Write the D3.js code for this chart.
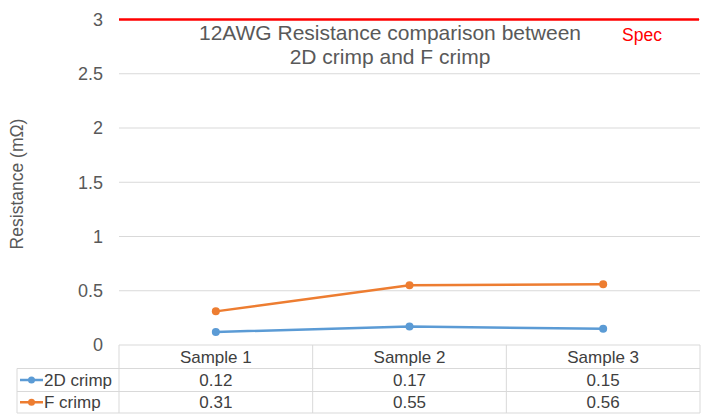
<!DOCTYPE html>
<html><head><meta charset="utf-8">
<script src="https://cdn.jsdelivr.net/npm/d3@7"></script>
<style>body{margin:0;background:#fff;}svg{display:block;font-family:"Liberation Sans",Arial,sans-serif;}</style>
</head><body>
<svg id="c" width="710" height="415"></svg>
<script>
const categories = ["Sample 1", "Sample 2", "Sample 3"];
const series2D = [0.12, 0.17, 0.15];
const seriesF = [0.31, 0.55, 0.56];
const specValue = [3, 3, 3];
const yTicks = [0, 0.5, 1, 1.5, 2, 2.5, 3];
const seriesNames = ["2D crimp", "F crimp"];
const colors = ["#5B9BD5", "#ED7D31"];

const FF = "'Liberation Sans', Arial, sans-serif";
const svg = d3.select("#c");
const L = 119, R = 700, T = 19.5, B = 345;
const x = d3.scaleBand().domain(categories).range([L, R]);
const y = d3.scaleLinear().domain([0, 3]).range([B, T]);

// gridlines
svg.append("g").selectAll("line").data(yTicks.filter(d => d > 0)).join("line")
  .attr("x1", L).attr("x2", R).attr("y1", d => y(d)).attr("y2", d => y(d))
  .attr("stroke", "#D9D9D9").attr("stroke-width", 1);

// y axis labels
const yAxis = d3.axisLeft(y).tickValues(yTicks).tickSize(0).tickPadding(16).tickFormat(d3.format("~g"));
const ga = svg.append("g").attr("transform", `translate(${L},0)`).call(yAxis);
ga.select(".domain").remove();
ga.selectAll("text").attr("font-size", 18).attr("fill", "#595959").attr("font-family", FF);

// y title
svg.append("text").attr("transform", `translate(23,${184}) rotate(-90)`)
  .attr("text-anchor", "middle").attr("font-size", 17.5).attr("fill", "#595959").text("Resistance (mΩ)");

// title
const title = svg.append("text").attr("text-anchor", "middle").attr("font-size", 21).attr("fill", "#595959");
title.append("tspan").attr("x", 390).attr("y", 40).text("12AWG Resistance comparison between");
title.append("tspan").attr("x", 390).attr("y", 64).text("2D crimp and F crimp");

// spec line
svg.append("line").attr("x1", L).attr("x2", R - 1).attr("y1", y(specValue[0])).attr("y2", y(specValue[0]))
  .attr("stroke", "#FF0000").attr("stroke-width", 2.5);
svg.append("text").attr("x", 642).attr("y", 41).attr("text-anchor", "middle").attr("font-size", 17.5)
  .attr("fill", "#FF0000").text("Spec");

// series
const cx = c => x(c) + x.bandwidth() / 2;
[series2D, seriesF].forEach((s, i) => {
  const data = categories.map((c, j) => ({c, v: s[j]}));
  svg.append("path").datum(data)
    .attr("d", d3.line().x(d => cx(d.c)).y(d => y(d.v)))
    .attr("fill", "none").attr("stroke", colors[i]).attr("stroke-width", 2.5).attr("stroke-linecap", "round");
  svg.append("g").selectAll("circle").data(data).join("circle")
    .attr("cx", d => cx(d.c)).attr("cy", d => y(d.v)).attr("r", 4).attr("fill", colors[i]);
});

// data table
const rowY = [B, 368.5, 391.5, 413];
const tcol = "#D9D9D9";
const tg = svg.append("g").attr("stroke", tcol).attr("stroke-width", 1).attr("fill", "none");
tg.append("line").attr("x1", L).attr("x2", R).attr("y1", rowY[0]).attr("y2", rowY[0]);
[1, 2, 3].forEach(k => tg.append("line").attr("x1", 17).attr("x2", R).attr("y1", rowY[k]).attr("y2", rowY[k]));
tg.append("line").attr("x1", 17).attr("x2", 17).attr("y1", rowY[1]).attr("y2", rowY[3]);
[L, ...categories.map(c => x(c) + x.bandwidth())].forEach(xx =>
  tg.append("line").attr("x1", xx).attr("x2", xx).attr("y1", rowY[0]).attr("y2", rowY[3]));

const txt = "#404040";
categories.forEach(c => {
  svg.append("text").attr("x", cx(c)).attr("y", (rowY[0] + rowY[1]) / 2 + 6).attr("text-anchor", "middle")
    .attr("font-size", 17).attr("fill", txt).text(c);
});
[series2D, seriesF].forEach((s, i) => {
  const ry = (rowY[i + 1] + rowY[i + 2]) / 2 + 6;
  categories.forEach((c, j) => {
    svg.append("text").attr("x", cx(c)).attr("y", ry).attr("text-anchor", "middle")
      .attr("font-size", 17).attr("fill", txt).text(s[j].toFixed(2));
  });
  const ly = ry - 6;
  svg.append("line").attr("x1", 20).attr("x2", 43).attr("y1", ly).attr("y2", ly)
    .attr("stroke", colors[i]).attr("stroke-width", 2.5);
  svg.append("circle").attr("cx", 31.5).attr("cy", ly).attr("r", 3.5).attr("fill", colors[i]);
  svg.append("text").attr("x", 44).attr("y", ry).attr("font-size", 17).attr("fill", txt).text(seriesNames[i]);
});
</script>
</body></html>
